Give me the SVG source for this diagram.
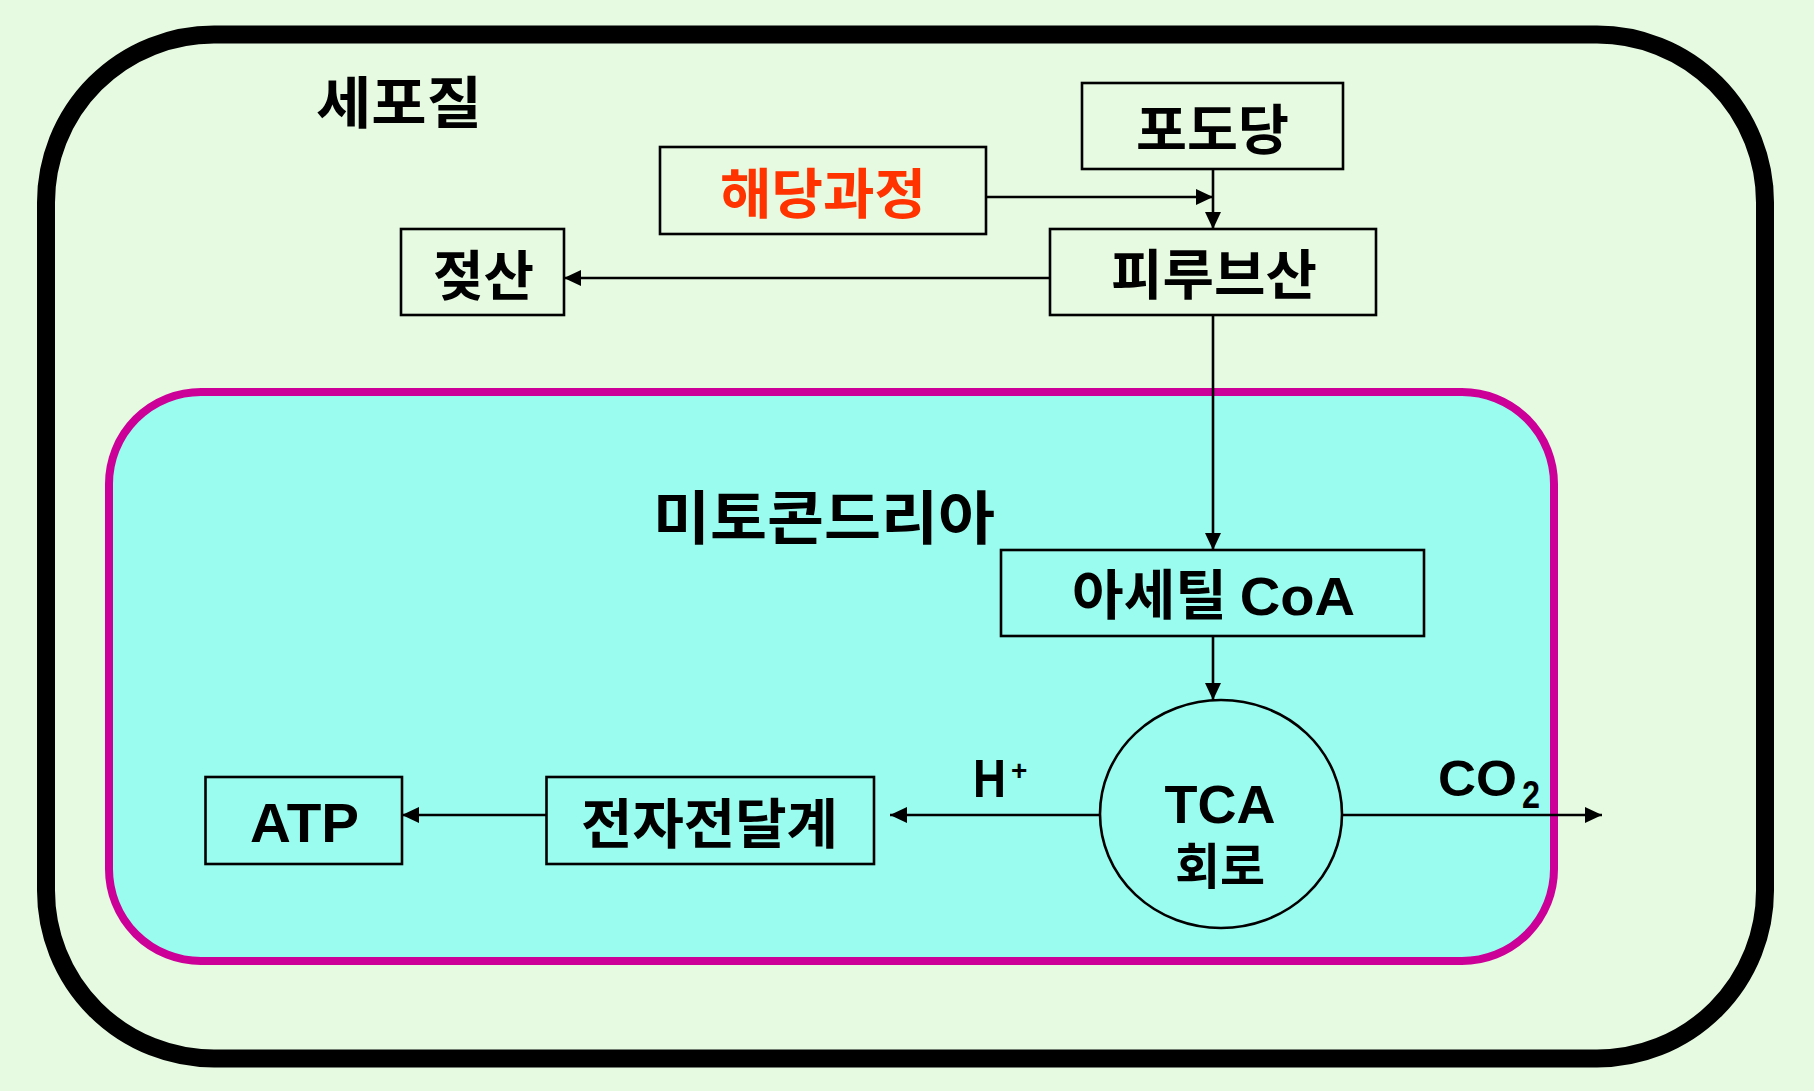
<svg xmlns="http://www.w3.org/2000/svg" width="1814" height="1091" viewBox="0 0 1814 1091">
<style>
.ko{font-family:"Noto Sans CJK KR","Noto Sans",sans-serif;font-weight:700;fill:#000;}
.la{font-family:"Liberation Sans",Arial,sans-serif;font-weight:700;fill:#000;}
.box{fill:none;stroke:#000;stroke-width:2.6;}
.ln{fill:none;stroke:#000;stroke-width:2.6;marker-end:url(#ah);}
</style>
<defs>
<marker id="ah" markerUnits="userSpaceOnUse" markerWidth="18" markerHeight="16" refX="17" refY="8" orient="auto">
<path d="M0,0 L17,8 L0,16 z" fill="#000"/>
</marker>
</defs>
<rect x="0" y="0" width="1814" height="1091" fill="#E6F9E1"/>
<g id="cytoplasm">
<rect x="46" y="34.5" width="1719" height="1024" rx="168" ry="168" fill="#E6F9E1" stroke="#000" stroke-width="18"/>
<text class="ko" x="316" y="123" font-size="56" textLength="166" lengthAdjust="spacingAndGlyphs">세포질</text>
</g>
<g id="mitochondria">
<rect x="109" y="392" width="1445" height="569" rx="92" ry="92" fill="#99FCEF" stroke="#CC0099" stroke-width="8"/>
<text class="ko" x="653" y="539" font-size="58" textLength="342" lengthAdjust="spacingAndGlyphs">미토콘드리아</text>
</g>
<g id="glucose">
<rect class="box" x="1082" y="83" width="261" height="86"/>
<text class="ko" x="1136" y="150" font-size="54" textLength="153" lengthAdjust="spacingAndGlyphs">포도당</text>
</g>
<g id="glycolysis">
<rect class="box" x="660" y="147" width="326" height="87"/>
<text class="ko" x="720" y="214" font-size="54" textLength="206" lengthAdjust="spacingAndGlyphs" style="fill:#FF3300">해당과정</text>
</g>
<g id="lactate">
<rect class="box" x="401" y="229" width="163" height="86"/>
<text class="ko" x="433" y="296" font-size="54" textLength="101" lengthAdjust="spacingAndGlyphs">젖산</text>
</g>
<g id="pyruvate">
<rect class="box" x="1050" y="229" width="326" height="86"/>
<text class="ko" x="1111" y="295" font-size="54" textLength="206" lengthAdjust="spacingAndGlyphs">피루브산</text>
</g>
<g id="acetylcoa">
<rect class="box" x="1001" y="550" width="423" height="86"/>
<text class="ko" x="1072" y="615" font-size="54" textLength="283" lengthAdjust="spacingAndGlyphs">아세틸 <tspan class="la">CoA</tspan></text>
</g>
<g id="tca">
<ellipse cx="1221" cy="814" rx="121" ry="114" fill="none" stroke="#000" stroke-width="2.6"/>
<text class="la" text-anchor="middle"><tspan x="1220" y="823" font-size="54">TCA</tspan><tspan class="ko" x="1220" y="884" font-size="49">회로</tspan></text>
</g>
<g id="etc">
<rect class="box" x="546.5" y="777" width="327.5" height="87"/>
<text class="ko" x="581" y="844" font-size="54" textLength="257" lengthAdjust="spacingAndGlyphs">전자전달계</text>
</g>
<g id="atp">
<rect class="box" x="205.5" y="777" width="196.5" height="87"/>
<text class="la" x="250" y="842" font-size="56" textLength="109" lengthAdjust="spacingAndGlyphs">ATP</text>
</g>
<g id="labels">
<text class="la" x="973" y="797" font-size="54" textLength="33" lengthAdjust="spacingAndGlyphs">H</text>
<text class="la" x="1011" y="780" font-size="28">+</text>
<text class="la" x="1438" y="796" font-size="50" textLength="79" lengthAdjust="spacingAndGlyphs">CO</text>
<text class="la" x="1522" y="808" font-size="38" textLength="18" lengthAdjust="spacingAndGlyphs">2</text>
</g>
<g id="connectors">
<line class="ln" x1="1213" y1="169" x2="1213" y2="229"/>
<line class="ln" x1="986" y1="197" x2="1213" y2="197"/>
<line class="ln" x1="1050" y1="278" x2="564" y2="278"/>
<line class="ln" x1="1213" y1="315" x2="1213" y2="550"/>
<line class="ln" x1="1213" y1="636" x2="1213" y2="700"/>
<line class="ln" x1="1100" y1="815" x2="890" y2="815"/>
<line class="ln" x1="1342" y1="815" x2="1602" y2="815"/>
<line class="ln" x1="546.5" y1="815" x2="402" y2="815"/>
</g>
</svg>
